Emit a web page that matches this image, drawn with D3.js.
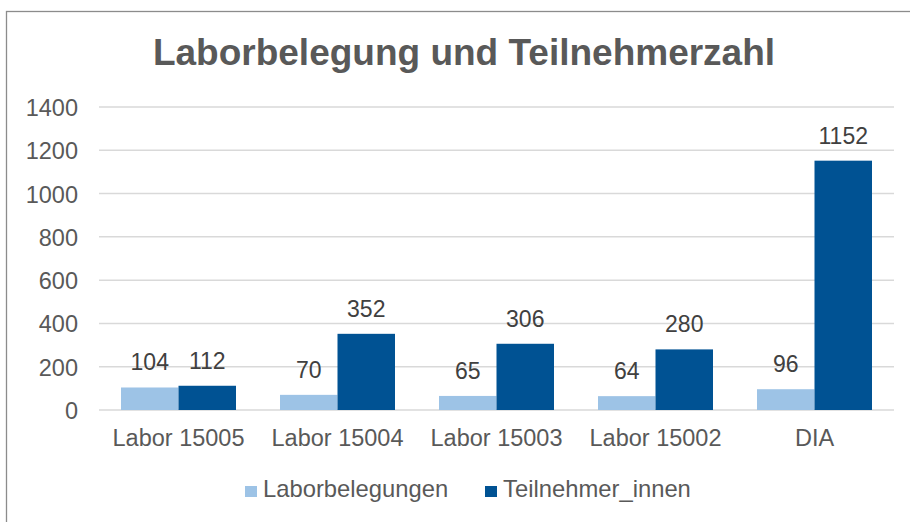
<!DOCTYPE html>
<html>
<head>
<meta charset="utf-8">
<script src="https://cdn.jsdelivr.net/npm/d3@7"></script>
<style>
  body { margin: 0; background: #fff; }
  text { font-family: "Liberation Sans", Arial, sans-serif; }
</style>
</head>
<body>
<div id="main"></div>
<script>
// Chart data
const categories = ["Labor 15005", "Labor 15004", "Labor 15003", "Labor 15002", "DIA"];
const seriesNames = ["Laborbelegungen", "Teilnehmer_innen"];
const laborbelegungen = [104, 70, 65, 64, 96];
const teilnehmer = [112, 352, 306, 280, 1152];
const yTicks = [0, 200, 400, 600, 800, 1000, 1200, 1400];

const ctx = {
  width: 910,
  height: 522,
  left: 99,
  right: 894,
  top: 107,
  bottom: 410,
  colors: ["#9dc3e6", "#005293"]
};

function createViz() {
  const svg = d3.select("#main")
    .append("svg")
    .attr("width", ctx.width)
    .attr("height", ctx.height);

  // chart frame (only left + top visible in the crop)
  svg.append("rect")
    .attr("x", 6.5).attr("y", 11.5)
    .attr("width", 1000).attr("height", 1000)
    .attr("fill", "none")
    .attr("stroke", "#8c8c8c")
    .attr("stroke-width", 1.3);

  // title
  svg.append("text")
    .attr("x", 464).attr("y", 65)
    .attr("text-anchor", "middle")
    .attr("font-size", 37)
    .attr("font-weight", "bold")
    .attr("fill", "#595959")
    .text("Laborbelegung und Teilnehmerzahl");

  const y = d3.scaleLinear().domain([0, 1400]).range([ctx.bottom, ctx.top]);
  const p = 44 / 159;
  const x = d3.scaleBand().domain(categories)
    .range([ctx.left, ctx.right])
    .paddingInner(p).paddingOuter(p / 2);
  const xs = d3.scaleBand().domain(seriesNames).range([0, x.bandwidth()]);

  // gridlines
  svg.append("g").selectAll("line")
    .data(yTicks)
    .join("line")
    .attr("x1", ctx.left).attr("x2", ctx.right)
    .attr("y1", d => y(d)).attr("y2", d => y(d))
    .attr("stroke", "#d9d9d9")
    .attr("stroke-width", 1.5);

  // y axis labels
  const yAxis = svg.append("g")
    .attr("transform", `translate(${ctx.left - 21},0)`)
    .call(d3.axisLeft(y).tickValues(yTicks).tickFormat(d3.format("d")).tickSize(0).tickPadding(0));
  yAxis.select(".domain").remove();
  yAxis.selectAll("text")
    .attr("font-size", 23.5)
    .attr("font-family", "Liberation Sans, Arial, sans-serif")
    .attr("fill", "#595959")
    .attr("dy", "0.36em");

  // bars
  const rows = categories.map((c, i) => ({ cat: c, values: [laborbelegungen[i], teilnehmer[i]] }));
  const groups = svg.append("g").selectAll("g")
    .data(rows)
    .join("g")
    .attr("transform", d => `translate(${x(d.cat)},0)`);

  groups.selectAll("rect")
    .data(d => d.values.map((v, k) => ({ name: seriesNames[k], v: v, k: k })))
    .join("rect")
    .attr("x", d => xs(d.name))
    .attr("y", d => y(d.v))
    .attr("width", xs.bandwidth())
    .attr("height", d => y(0) - y(d.v))
    .attr("fill", d => ctx.colors[d.k]);

  groups.selectAll("text")
    .data(d => d.values.map((v, k) => ({ name: seriesNames[k], v: v, k: k })))
    .join("text")
    .attr("x", d => xs(d.name) + xs.bandwidth() / 2)
    .attr("y", d => y(d.v) - 17)
    .attr("text-anchor", "middle")
    .attr("font-size", 23)
    .attr("fill", "#404040")
    .text(d => d.v);

  // x axis labels
  const xAxis = svg.append("g")
    .attr("transform", `translate(0,${ctx.bottom})`)
    .call(d3.axisBottom(x).tickSize(0).tickPadding(0));
  xAxis.select(".domain").remove();
  xAxis.selectAll("text")
    .attr("font-size", 23.5)
    .attr("font-family", "Liberation Sans, Arial, sans-serif")
    .attr("fill", "#595959")
    .attr("dy", 0)
    .attr("y", 36);

  // legend
  const legendX = [245, 485];
  const legend = svg.append("g").selectAll("g")
    .data(seriesNames)
    .join("g")
    .attr("transform", (d, i) => `translate(${legendX[i]},486)`);
  legend.append("rect")
    .attr("width", 12).attr("height", 11)
    .attr("fill", (d, i) => ctx.colors[i]);
  legend.append("text")
    .attr("x", 18).attr("y", 11)
    .attr("font-size", 23.8)
    .attr("fill", "#595959")
    .text(d => d);
}

createViz();
</script>
</body>
</html>
